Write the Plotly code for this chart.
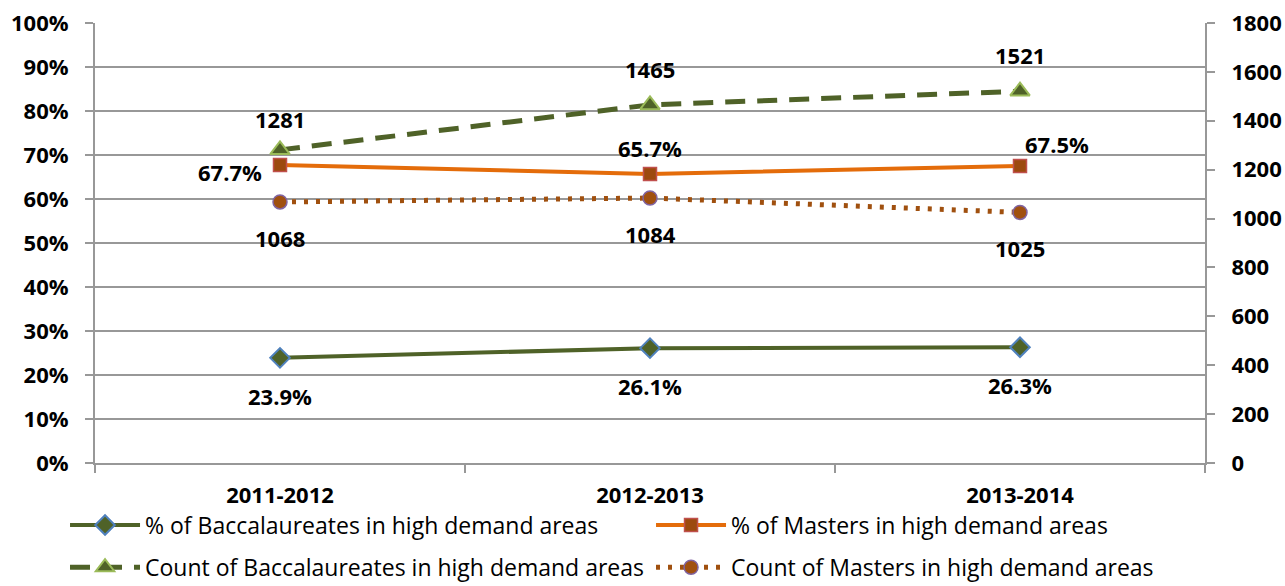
import plotly.graph_objects as go

# Academic years on the category axis
years = ["2011-2012", "2012-2013", "2013-2014"]

# Share of degrees awarded in high demand areas (percent)
pct_bacc = [23.9, 26.1, 26.3]
pct_masters = [67.7, 65.7, 67.5]

# Number of degrees awarded in high demand areas
count_bacc = [1281, 1465, 1521]
count_masters = [1068, 1084, 1025]

# Axis tick labels
pct_ticks = [0, 10, 20, 30, 40, 50, 60, 70, 80, 90, 100]
count_ticks = [0, 200, 400, 600, 800, 1000, 1200, 1400, 1600, 1800]

OLIVE = "#4F6228"
ORANGE = "#E46C0A"
BROWN = "#A0500F"
GRID = "#989898"
FONT = "Open Sans"

fig = go.Figure()

fig.add_trace(go.Scatter(
    x=years, y=pct_bacc, name="% of Baccalaureates in high demand areas",
    mode="lines+markers", yaxis="y", legend="legend",
    line=dict(color=OLIVE, width=4),
    marker=dict(symbol="diamond", size=15, color=OLIVE,
                line=dict(color="#4F81BD", width=2)),
))
fig.add_trace(go.Scatter(
    x=years, y=pct_masters, name="% of Masters in high demand areas",
    mode="lines+markers", yaxis="y", legend="legend",
    line=dict(color=ORANGE, width=4),
    marker=dict(symbol="square", size=13, color="#9C4A0E",
                line=dict(color="#C0504D", width=1.5)),
))
fig.add_trace(go.Scatter(
    x=years, y=count_bacc, name="Count of Baccalaureates in high demand areas",
    mode="lines+markers", yaxis="y2", legend="legend2",
    line=dict(color=OLIVE, width=5, dash="20px,12px"),
    marker=dict(symbol="triangle-up", size=17, color=OLIVE,
                line=dict(color="#9BBB59", width=2)),
))
fig.add_trace(go.Scatter(
    x=years, y=count_masters, name="Count of Masters in high demand areas",
    mode="lines+markers", yaxis="y2", legend="legend2",
    line=dict(color=BROWN, width=5, dash="4px,8px"),
    marker=dict(symbol="circle", size=14, color=BROWN,
                line=dict(color="#8064A2", width=1.5)),
))

label_font = dict(family=FONT, size=22, color="black", weight="bold")
annotations = []


def add_label(x, y, text, yref, xshift=0, yshift=0):
    annotations.append(dict(
        x=x, y=y, xref="x", yref=yref, text=text, showarrow=False,
        xshift=xshift, yshift=yshift, font=label_font,
    ))


bacc_count_lift = [31, 36, 36]
for i, yr in enumerate(years):
    add_label(yr, pct_bacc[i], f"{pct_bacc[i]:.1f}%", "y", yshift=-38)
    add_label(yr, count_bacc[i], f"{count_bacc[i]}", "y2", yshift=bacc_count_lift[i])
    add_label(yr, count_masters[i], f"{count_masters[i]}", "y2", yshift=-36)

# Masters percentage labels sit left, above and upper-right of their points
add_label(years[0], pct_masters[0], f"{pct_masters[0]:.1f}%", "y", xshift=-50, yshift=-7)
add_label(years[1], pct_masters[1], f"{pct_masters[1]:.1f}%", "y", yshift=26)
add_label(years[2], pct_masters[2], f"{pct_masters[2]:.1f}%", "y", xshift=37, yshift=22)

tick_font = dict(family=FONT, size=22, color="black", weight="bold")
legend_font = dict(family=FONT, size=23, color="black")

legend_common = dict(
    orientation="h", x=-0.027, xanchor="left", yanchor="middle",
    font=legend_font, entrywidth=501, entrywidthmode="pixels",
    bgcolor="rgba(0,0,0,0)", itemwidth=70,
)

fig.update_layout(
    width=1285, height=586,
    margin=dict(l=95, r=80, t=23, b=123, autoexpand=False),
    paper_bgcolor="white", plot_bgcolor="white",
    showlegend=True,
    annotations=annotations,
    xaxis=dict(
        type="category", range=[-0.5, 2.5],
        showgrid=False, showline=True, linecolor=GRID, linewidth=2,
        ticks="outside", tickson="boundaries", ticklen=8, tickwidth=2,
        tickcolor=GRID, tickfont=tick_font, ticklabelstandoff=12,
    ),
    yaxis=dict(
        range=[0, 100], tickvals=pct_ticks,
        ticktext=[f"{v}%" for v in pct_ticks],
        showgrid=True, gridcolor=GRID, gridwidth=2,
        showline=True, linecolor=GRID, linewidth=2,
        ticks="outside", ticklen=8, tickwidth=2, tickcolor=GRID,
        tickfont=tick_font, zeroline=False, ticklabelstandoff=12,
    ),
    yaxis2=dict(
        range=[0, 1800], tickvals=count_ticks, overlaying="y", side="right",
        showgrid=False, showline=True, linecolor=GRID, linewidth=2,
        ticks="outside", ticklen=8, tickwidth=2, tickcolor=GRID,
        tickfont=tick_font, zeroline=False, ticklabelstandoff=12,
    ),
    legend=dict(legend_common, y=-0.141),
    legend2=dict(legend_common, y=-0.237),
)

fig.write_html("out.html")
